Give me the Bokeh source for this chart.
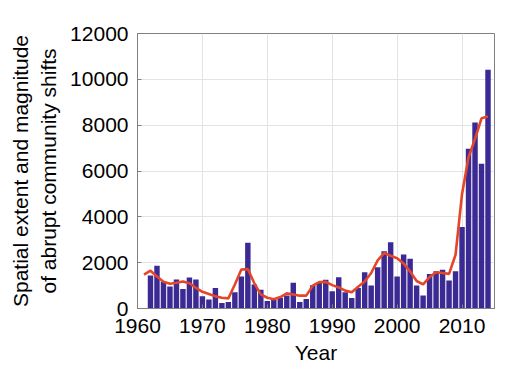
from bokeh.plotting import figure
from bokeh.models import FixedTicker, Range1d
from bokeh.embed import file_html
from bokeh.resources import INLINE

# ---- data ----
bar_years = list(range(1962, 2015))
bar_values = [1440, 1870, 1170, 960, 1270, 850, 1350, 1270, 530, 390,
              900, 240, 280, 710, 1400, 2870, 1050, 820, 330, 390,
              470, 570, 1120, 280, 420, 1020, 1150, 1250, 750, 1360,
              710, 460, 900, 1580, 1000, 1800, 2500, 2890, 1400, 2360,
              2170, 1000, 570, 1510, 1630, 1690, 1220, 1630, 3560, 6970,
              8120, 6320, 10420]

line_years = list(range(1961, 2015))
line_values = [1480, 1650, 1400, 1170, 1080, 1120, 1180, 1100, 900, 730,
               630, 530, 470, 440, 1050, 1700, 1720, 1100, 620, 470,
               400, 500, 660, 610, 560, 560, 1000, 1150, 1160, 1020,
               920, 780, 710, 950, 1180, 1550, 2100, 2420, 2300, 2190,
               1960, 1620, 1200, 1050, 1370, 1580, 1550, 1510, 2346, 5000,
               6600, 7400, 8300, 8380]

x_ticks = [1960, 1970, 1980, 1990, 2000, 2010]
y_ticks = [0, 2000, 4000, 6000, 8000, 10000, 12000]

FONT = "Liberation Sans"
FS = "21px"
AXIS_COLOR = "#808080"

p = figure(width=507, height=373, output_backend="svg", toolbar_location=None,
           x_range=Range1d(1960, 2015), y_range=Range1d(0, 12000),
           min_border_left=137, min_border_right=13, min_border_top=33,
           min_border_bottom=65, background_fill_color="white",
           border_fill_color="white")

p.vbar(x=bar_years, top=bar_values, width=0.84,
       fill_color="#3b2a94", line_color=None)
p.line(line_years, line_values, line_color="#e4462a", line_width=2.6)

p.outline_line_color = AXIS_COLOR
p.outline_line_width = 1

for ax in (p.xaxis[0], p.yaxis[0]):
    ax.major_label_text_font = FONT
    ax.major_label_text_font_size = FS
    ax.major_label_text_color = "black"
    ax.axis_label_text_font = FONT
    ax.axis_label_text_font_size = FS
    ax.axis_label_text_font_style = "normal"
    ax.axis_label_text_color = "black"
    ax.axis_line_color = AXIS_COLOR
    ax.major_tick_line_color = AXIS_COLOR
    ax.major_tick_in = 4
    ax.major_tick_out = 0
    ax.minor_tick_line_color = None

p.xaxis[0].ticker = FixedTicker(ticks=x_ticks)
p.yaxis[0].ticker = FixedTicker(ticks=y_ticks)
p.xaxis[0].axis_label = "Year"
p.yaxis[0].axis_label = "Spatial extent and magnitude\nof abrupt community shifts"
p.xaxis[0].major_label_standoff = 10
p.yaxis[0].major_label_standoff = 9
p.xaxis[0].axis_label_standoff = 5
p.yaxis[0].axis_label_standoff = 7

p.xgrid.ticker = FixedTicker(ticks=x_ticks)
p.ygrid.ticker = FixedTicker(ticks=y_ticks)
p.xgrid.grid_line_color = "#e3e3e3"
p.ygrid.grid_line_color = "#e3e3e3"

open("out.html", "w").write(file_html(p, INLINE))
